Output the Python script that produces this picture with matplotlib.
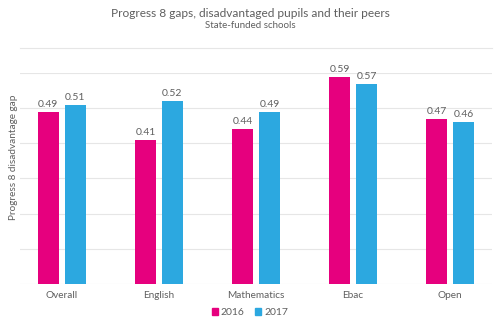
import numpy as np
import matplotlib
matplotlib.use('Agg')
import matplotlib.pyplot as plt
from matplotlib.lines import Line2D
from matplotlib.patches import Patch

categories = ['Overall', 'English', 'Mathematics', 'Ebac', 'Open']
gap_2016 = [0.49, 0.41, 0.44, 0.59, 0.47]
gap_2017 = [0.51, 0.52, 0.49, 0.57, 0.46]
years = ['2016', '2017']

pink = '#e6007e'
blue = '#2ca8e0'
grey = '#5f5f5f'

plt.rcParams['font.family'] = ['Lato', 'DejaVu Sans']

fig = plt.figure(figsize=(5, 3.26), dpi=100)
ax = fig.add_axes([0.04, 0.129, 0.944, 0.647])

x = np.arange(len(categories))
w = 0.215
off = 0.139
b1 = ax.bar(x - off, gap_2016, w, color=pink, zorder=3)
b2 = ax.bar(x + off, gap_2017, w, color=blue, zorder=3)

for bars, vals in [(b1, gap_2016), (b2, gap_2017)]:
    for r, v in zip(bars, vals):
        ax.text(r.get_x() + r.get_width() / 2, v + 0.008, f'{v:.2f}',
                ha='center', va='bottom', fontsize=7.5, color=grey)

ax.set_xlim(-0.43, 4.43)
ax.set_ylim(0, 0.6)
ax.set_yticks(np.arange(0, 0.61, 0.1))
ax.set_yticklabels([])
ax.tick_params(axis='y', length=0)
ax.tick_params(axis='x', length=0, pad=5, labelsize=7.2, labelcolor=grey)
ax.set_xticks(x)
ax.set_xticklabels(categories)
ax.grid(axis='y', color='#e6e6e6', linewidth=0.8, zorder=0)
for s in ax.spines.values():
    s.set_visible(False)
ax.set_ylabel('Progress 8 disadvantage gap', fontsize=7.2, color=grey)
ax.yaxis.set_label_coords(-0.004, 0.6)

fig.text(0.5, 0.96, 'Progress 8 gaps, disadvantaged pupils and their peers',
         ha='center', va='center', fontsize=8.6, color=grey)
fig.text(0.5, 0.922, 'State-funded schools', ha='center', va='center',
         fontsize=7, color=grey)
fig.add_artist(Line2D([0.04, 0.984], [0.853, 0.853], color='#e6e6e6', linewidth=0.8))

handles = [Patch(color=pink), Patch(color=blue)]
fig.legend(handles, years, loc='center', bbox_to_anchor=(0.5, 0.04), ncol=2,
           frameon=False, fontsize=7.5, handlelength=0.6, handleheight=0.6,
           handletextpad=0.3, columnspacing=1.0, labelcolor=grey)

fig.savefig('out.png', dpi=100)
